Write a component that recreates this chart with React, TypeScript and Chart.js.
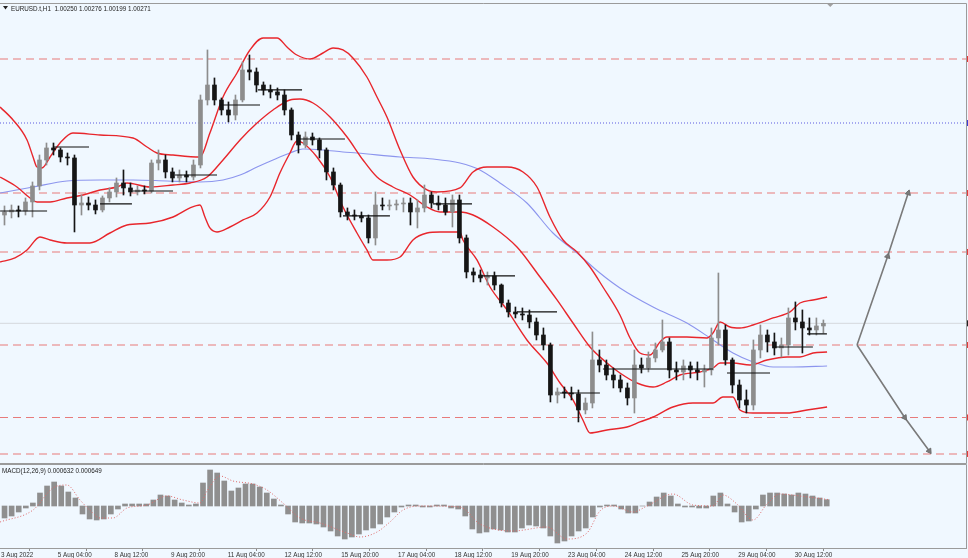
import React, { useEffect, useRef } from "react";
import { Chart, registerables } from "chart.js";

Chart.register(...registerables);

const FONT = '"Liberation Sans", Arial, sans-serif';
const BG = "#f0f8ff";

const X_MIN = -0.56;
const X_MAX = 544.6;
const PRICE_MIN = 0.98525;
const PRICE_MAX = 1.042625;
const MACD_MIN = -0.0042;
const MACD_MAX = 0.0041;
// candles were sampled every 3.95 trading hours, MACD every 4 hours
const CANDLE_STEP = 3.95;
const CANDLE_OFFSET = 1.975;
const MACD_STEP = 4;
const SHIFT_HOUR = 468;

const titleText = "EURUSD.t,H1  1.00250 1.00276 1.00199 1.00271";
const macdText = "MACD(12,26,9) 0.000632 0.000649";

const tickHours = [0, 32, 64, 96, 128, 160, 192, 224, 256, 288, 320, 352, 384, 416, 448];
const tickLabels = [
  "3 Aug 2022", "5 Aug 04:00", "8 Aug 12:00", "9 Aug 20:00", "11 Aug 04:00",
  "12 Aug 12:00", "15 Aug 20:00", "17 Aug 04:00", "18 Aug 12:00", "19 Aug 20:00",
  "23 Aug 04:00", "24 Aug 12:00", "25 Aug 20:00", "29 Aug 04:00", "30 Aug 12:00",
];

const opens = [
  1.01625, 1.01663, 1.01688, 1.01675, 1.01788, 1.01988, 1.02313, 1.02463, 1.02438, 1.02350,
  1.02338, 1.01750, 1.01775, 1.01750, 1.01688, 1.01838, 1.01913, 1.02025, 1.01963, 1.01913,
  1.01938, 1.01925, 1.02275, 1.02313, 1.02163, 1.02088, 1.02125, 1.02100, 1.02250, 1.03063,
  1.03250, 1.03063, 1.02938, 1.02875, 1.03063, 1.03438, 1.03413, 1.03250, 1.03188, 1.03163,
  1.03125, 1.02938, 1.02625, 1.02500, 1.02600, 1.02563, 1.02438, 1.02163, 1.02000, 1.01663,
  1.01625, 1.01613, 1.01588, 1.01338, 1.01750, 1.01738, 1.01750, 1.01763, 1.01775, 1.01663,
  1.01713, 1.01875, 1.01775, 1.01750, 1.01663, 1.01813, 1.01338, 1.00913, 1.00875, 1.00838,
  1.00863, 1.00750, 1.00525, 1.00413, 1.00388, 1.00375, 1.00288, 1.00125, 1.00000, 0.99375,
  0.99413, 0.99400, 0.99388, 0.99188, 0.99275, 0.99813, 0.99750, 0.99625, 0.99563, 0.99463,
  0.99338, 0.99750, 0.99713, 0.99838, 0.99938, 1.00038, 0.99688, 0.99663, 0.99738, 0.99688,
  0.99663, 0.99688, 1.00088, 1.00188, 0.99813, 0.99500, 0.99313, 0.99250, 0.99938, 1.00125,
  1.00038, 0.99963, 1.00000, 1.00338, 1.00288, 1.00213, 1.00188, 1.00238,
];
const highs = [
  1.01738, 1.01750, 1.01738, 1.01838, 1.02038, 1.02375, 1.02525, 1.02525, 1.02463, 1.02400,
  1.02375, 1.01875, 1.01850, 1.01813, 1.01863, 1.01963, 1.02088, 1.02188, 1.02025, 1.01988,
  1.01988, 1.02313, 1.02438, 1.02375, 1.02213, 1.02188, 1.02175, 1.02313, 1.03125, 1.03688,
  1.03338, 1.03088, 1.03038, 1.03125, 1.03538, 1.03625, 1.03463, 1.03288, 1.03250, 1.03213,
  1.03188, 1.02963, 1.02663, 1.02663, 1.02650, 1.02588, 1.02463, 1.02213, 1.02025, 1.01713,
  1.01688, 1.01663, 1.01625, 1.01913, 1.01838, 1.01813, 1.01813, 1.01838, 1.01838, 1.01813,
  1.02000, 1.01913, 1.01863, 1.01838, 1.01875, 1.01875, 1.01375, 1.00963, 1.00938, 1.00913,
  1.00913, 1.00763, 1.00563, 1.00475, 1.00463, 1.00438, 1.00338, 1.00213, 1.00025, 0.99463,
  0.99475, 0.99475, 0.99438, 0.99338, 1.00163, 0.99938, 0.99813, 0.99713, 0.99625, 0.99525,
  0.99938, 0.99838, 0.99913, 1.00025, 1.00313, 1.00088, 0.99788, 0.99813, 0.99788, 0.99788,
  0.99750, 1.00213, 1.00900, 1.00250, 0.99838, 0.99563, 0.99438, 1.00063, 1.00250, 1.00188,
  1.00150, 1.00088, 1.00463, 1.00538, 1.00438, 1.00338, 1.00338, 1.00313,
];
const lows = [
  1.01500, 1.01588, 1.01600, 1.01625, 1.01600, 1.01938, 1.02250, 1.02375, 1.02288, 1.02250,
  1.01413, 1.01625, 1.01688, 1.01638, 1.01663, 1.01788, 1.01850, 1.01875, 1.01863, 1.01875,
  1.01888, 1.01900, 1.02188, 1.02088, 1.02038, 1.02038, 1.02038, 1.02063, 1.02213, 1.03000,
  1.03000, 1.02875, 1.02788, 1.02813, 1.03038, 1.03313, 1.03163, 1.03125, 1.03088, 1.03063,
  1.02875, 1.02563, 1.02400, 1.02463, 1.02500, 1.02338, 1.02063, 1.01938, 1.01600, 1.01563,
  1.01563, 1.01538, 1.01275, 1.01250, 1.01688, 1.01688, 1.01688, 1.01663, 1.01500, 1.01463,
  1.01663, 1.01713, 1.01688, 1.01625, 1.01475, 1.01275, 1.00838, 1.00788, 1.00788, 1.00750,
  1.00688, 1.00475, 1.00350, 1.00338, 1.00313, 1.00213, 1.00063, 0.99938, 0.99288, 0.99275,
  0.99338, 0.99313, 0.99038, 0.99138, 0.99213, 0.99663, 0.99563, 0.99463, 0.99413, 0.99250,
  0.99150, 0.99650, 0.99663, 0.99788, 0.99913, 0.99588, 0.99563, 0.99563, 0.99588, 0.99563,
  0.99475, 0.99625, 1.00000, 0.99750, 0.99400, 0.99213, 0.99150, 0.99188, 0.99838, 0.99913,
  0.99875, 0.99850, 0.99875, 1.00188, 0.99900, 1.00125, 1.00125, 1.00150,
];
const closes = [
  1.01663, 1.01688, 1.01675, 1.01788, 1.01988, 1.02313, 1.02463, 1.02438, 1.02350, 1.02338,
  1.01750, 1.01775, 1.01750, 1.01688, 1.01838, 1.01913, 1.02025, 1.01963, 1.01913, 1.01938,
  1.01925, 1.02275, 1.02313, 1.02163, 1.02088, 1.02125, 1.02100, 1.02250, 1.03063, 1.03250,
  1.03063, 1.02938, 1.02875, 1.03063, 1.03438, 1.03413, 1.03250, 1.03188, 1.03163, 1.03125,
  1.02938, 1.02625, 1.02500, 1.02600, 1.02563, 1.02438, 1.02163, 1.02000, 1.01663, 1.01625,
  1.01613, 1.01588, 1.01338, 1.01750, 1.01738, 1.01750, 1.01763, 1.01775, 1.01663, 1.01713,
  1.01875, 1.01775, 1.01750, 1.01663, 1.01813, 1.01338, 1.00913, 1.00875, 1.00838, 1.00863,
  1.00750, 1.00525, 1.00413, 1.00388, 1.00375, 1.00288, 1.00125, 1.00000, 0.99375, 0.99413,
  0.99400, 0.99388, 0.99188, 0.99275, 0.99813, 0.99750, 0.99625, 0.99563, 0.99463, 0.99338,
  0.99750, 0.99713, 0.99838, 0.99938, 1.00038, 0.99688, 0.99663, 0.99738, 0.99688, 0.99663,
  0.99688, 1.00088, 1.00188, 0.99813, 0.99500, 0.99313, 0.99250, 0.99938, 1.00125, 1.00038,
  0.99963, 1.00000, 1.00338, 1.00288, 1.00213, 1.00188, 1.00238, 1.00271,
];

const upperBand: [number, number][] = [
  [-0.5, 1.02975], [6.8, 1.02813], [14.7, 1.02563], [18.1, 1.0235], [20.3, 1.02225], [23.1, 1.02213],
  [27.7, 1.0235], [33.3, 1.02525], [40.6, 1.0265], [55.9, 1.02625], [74.5, 1.02588], [82.4, 1.02475],
  [88.0, 1.024], [97.1, 1.02375], [112.3, 1.0235], [117.9, 1.0265], [125.3, 1.031], [133.2, 1.034],
  [140.5, 1.03688], [147.9, 1.03838], [155.8, 1.03838], [161.4, 1.03725], [167.0, 1.03625], [174.4, 1.03575],
  [181.7, 1.0365], [187.4, 1.03713], [193.0, 1.03688], [198.6, 1.03588], [206.5, 1.0335], [212.2, 1.031],
  [217.8, 1.0285], [225.2, 1.02438], [232.5, 1.021], [240.4, 1.01938], [246.0, 1.01913], [259.0, 1.01963],
  [266.4, 1.02163], [274.3, 1.02225], [285.6, 1.02225], [294.6, 1.02163], [302.5, 1.01975], [309.8, 1.016],
  [317.2, 1.01313], [325.1, 1.01163], [332.4, 1.00975], [339.7, 1.00725], [349.3, 1.00375], [355.0, 1.00088],
  [360.6, 0.999], [366.3, 0.99875], [371.9, 1.00038], [375.8, 1.001], [387.1, 1.001], [398.4, 1.00088],
  [401.8, 1.0015], [405.8, 1.00288], [411.4, 1.00225], [417.0, 1.00213], [424.4, 1.0025], [435.7, 1.00338],
  [445.3, 1.00413], [450.9, 1.00525], [458.3, 1.00563], [466.2, 1.006],
];
const middleBand: [number, number][] = [
  [-0.5, 1.021], [9.0, 1.01975], [16.4, 1.01838], [20.3, 1.01788], [27.7, 1.01788], [37.2, 1.01838],
  [46.3, 1.01875], [55.9, 1.01938], [65.5, 1.01975], [71.1, 1.02025], [84.1, 1.01975], [97.1, 1.02],
  [106.7, 1.02025], [116.3, 1.021], [125.3, 1.02313], [134.9, 1.02563], [144.5, 1.02775], [153.5, 1.02938],
  [163.1, 1.03063], [168.7, 1.03075], [176.1, 1.03025], [185.7, 1.0285], [195.3, 1.026], [204.3, 1.02313],
  [212.2, 1.021], [221.2, 1.01975], [230.8, 1.01875], [240.4, 1.01725], [247.7, 1.01663], [259.0, 1.01663],
  [266.4, 1.01625], [277.7, 1.01475], [291.2, 1.01225], [304.2, 1.0085], [313.8, 1.00563], [322.8, 1.00275],
  [332.4, 0.99975], [342.0, 0.99775], [349.3, 0.9965], [358.9, 0.99525], [368.0, 0.99475], [375.8, 0.99538],
  [383.2, 0.99625], [394.5, 0.99663], [401.8, 0.99713], [405.8, 0.99775], [413.1, 0.99775], [422.7, 0.9975],
  [432.3, 0.99813], [443.6, 0.9985], [450.9, 0.9985], [458.3, 0.999], [466.2, 0.99913],
];
const lowerBand: [number, number][] = [
  [-0.5, 1.01038], [7.9, 1.01088], [14.7, 1.01188], [22.0, 1.0135], [27.7, 1.01313], [37.2, 1.01275],
  [50.2, 1.01275], [61.5, 1.014], [71.1, 1.015], [84.1, 1.01525], [97.1, 1.016], [106.7, 1.01713],
  [112.3, 1.0175], [115.1, 1.016], [117.9, 1.01463], [121.9, 1.01413], [129.2, 1.01475], [136.6, 1.01563],
  [144.5, 1.0165], [151.8, 1.0185], [157.4, 1.0215], [163.1, 1.024], [167.0, 1.0255], [170.4, 1.02525],
  [178.3, 1.0235], [185.7, 1.021], [193.0, 1.01725], [200.9, 1.014], [206.5, 1.01188], [209.9, 1.01063],
  [217.8, 1.01063], [225.2, 1.011], [232.5, 1.01313], [240.4, 1.014], [247.7, 1.01413], [259.0, 1.01413],
  [260.7, 1.01313], [268.6, 1.01063], [276.0, 1.00725], [285.6, 1.00438], [296.8, 1.00063], [308.1, 0.99775],
  [315.5, 0.99525], [322.8, 0.99313], [328.4, 0.99063], [332.4, 0.989], [342.0, 0.98938], [353.3, 0.98975],
  [360.6, 0.99038], [368.0, 0.991], [379.2, 0.99225], [390.5, 0.99275], [401.8, 0.99275], [407.4, 0.9935],
  [413.1, 0.9935], [417.0, 0.99188], [424.4, 0.9915], [443.6, 0.9915], [454.9, 0.99188], [466.2, 0.99225],
];
const movingAverage: [number, number][] = [
  [-0.5, 1.019], [18.1, 1.01975], [37.2, 1.0205], [55.9, 1.02063], [74.5, 1.02063], [93.7, 1.0205],
  [112.3, 1.02038], [125.3, 1.02063], [134.9, 1.02125], [144.5, 1.02225], [153.5, 1.02313], [163.1, 1.024],
  [170.4, 1.0245], [181.7, 1.02438], [193.0, 1.02413], [200.9, 1.024], [225.2, 1.0235], [243.8, 1.02325],
  [259.0, 1.02275], [270.3, 1.02188], [281.6, 1.02025], [296.8, 1.01775], [311.5, 1.014], [325.1, 1.0115],
  [338.0, 1.009], [349.3, 1.00713], [368.0, 1.00475], [387.1, 1.00275], [401.8, 1.00063], [413.1, 0.999],
  [424.4, 0.99788], [435.7, 0.99725], [447.0, 0.99725], [466.2, 0.99738],
];

// horizontal segments: [from hour, to hour, price]
const pivotSegments: [number, number, number][] = [
  [-0.5, 26.0, 1.01675], [29.3, 49.7, 1.02475], [55.9, 73.9, 1.01763], [74.5, 97.1, 1.01925],
  [98.2, 121.9, 1.02125], [123.6, 146.2, 1.03], [145.0, 169.9, 1.03188], [167.0, 194.1, 1.02575],
  [193.0, 219.5, 1.01613], [243.8, 265.8, 1.01763], [271.4, 290.1, 1.00863], [291.2, 313.8, 1.00413],
  [315.5, 338.0, 0.994], [339.7, 401.8, 0.997], [409.7, 434.0, 0.9965], [435.7, 458.2, 0.99975],
  [454.9, 466.1, 1.00138],
];

const dashedLevels = [1.03575, 1.019, 1.01163, 1.0, 0.99094, 0.98638];
const dottedLevel = 1.02775;
const lastPrice = 1.00271;

const arrowUp: [number, number][] = [[483.1, 1.0], [500.4, 1.0111], [512.0, 1.019]];
const arrowDown: [number, number][] = [[483.1, 1.0], [510.0, 0.99094], [523.9, 0.98675]];

const macdHist = [
  -0.0012, -0.001, -0.0006, -0.0002, 0.0003, 0.0013, 0.002, 0.0024, 0.002, 0.0014,
  0.0008, -0.0008, -0.0013, -0.0014, -0.0013, -0.0008, -0.0003, 0.0002, 0.0002, 0.0002,
  0.0002, 0.0006, 0.0011, 0.001, 0.0006, 0.0003, 0.0001, 0.0002, 0.0023, 0.0036,
  0.0033, 0.0025, 0.0015, 0.0018, 0.0022, 0.0022, 0.0019, 0.0013, 0.0007, 0.0001,
  -0.0008, -0.0016, -0.0017, -0.0017, -0.0018, -0.0021, -0.0025, -0.003, -0.0033, -0.0031,
  -0.0028, -0.0024, -0.0022, -0.0018, -0.0011, -0.0006, -0.0001, 0.0001, 0.0001, -0.0001,
  -0.0001, 0.0001, 0.0001, -0.0002, -0.0003, -0.001, -0.0023, -0.0027, -0.0026, -0.0023,
  -0.0024, -0.0026, -0.0026, -0.0022, -0.0019, -0.002, -0.0022, -0.003, -0.0037, -0.0035,
  -0.003, -0.0025, -0.0022, -0.0011, -0.0001, 0.0001, 0.0001, -0.0003, -0.0007, -0.0007,
  0.0, 0.0004, 0.0009, 0.0013, 0.001, 0.0002, -0.0001, -0.0001, -0.0002, -0.0002,
  0.001, 0.0013, 0.0002, -0.0006, -0.0016, -0.0015, -0.0003, 0.0011, 0.0013, 0.0013,
  0.0012, 0.0011, 0.0013, 0.0012, 0.001, 0.0008, 0.000632,
];
const macdSignal: [number, number][] = [
  [-0.5, -0.0016], [18.1, -0.0004], [29.3, 0.0018], [37.2, 0.0021], [44.6, 0.0006], [50.0, -0.0004],
  [55.9, -0.0012], [63.2, -0.0012], [71.1, -0.0002], [82.4, 0.0001], [93.7, 0.001], [102.7, 0.0006],
  [112.3, 0.0003], [116.3, 0.0015], [123.6, 0.003], [130.9, 0.0025], [142.2, 0.0022], [150.1, 0.0016],
  [159.1, 0.0003], [168.7, -0.0012], [180.0, -0.0017], [195.3, -0.0027], [202.6, -0.0031], [212.2, -0.0026],
  [219.5, -0.0016], [226.9, -0.0004], [236.5, 0.0], [259.0, -0.0001], [270.3, -0.0018], [288.9, -0.0025],
  [308.1, -0.0021], [319.4, -0.0033], [330.7, -0.0027], [338.0, -0.0005], [345.4, 0.0], [356.7, -0.0006],
  [364.6, 0.0], [379.2, 0.0012], [390.5, 0.0001], [401.8, 0.0], [407.4, 0.0011], [415.3, 0.0002],
  [424.4, -0.0014], [432.3, 0.0002], [439.6, 0.0012], [450.9, 0.001], [466.7, 0.000649],
];

const BULL = "#8d8d8d";
const BEAR = "#151515";
const BAND = "#e8262c";
const LEVEL = "#e77b7b";

const toXY = (arr: [number, number][]) => arr.map(([x, y]) => ({ x, y }));

function levelLine(price: number, color: string, dash: number[], width = 1): any {
  return {
    type: "line",
    data: [{ x: X_MIN, y: price }, { x: X_MAX, y: price }],
    borderColor: color,
    borderDash: dash,
    borderWidth: width,
    pointRadius: 0,
    order: 20,
  };
}

function bandLine(arr: [number, number][], color: string, width: number, order: number): any {
  return {
    type: "line",
    data: toXY(arr),
    borderColor: color,
    borderWidth: width,
    pointRadius: 0,
    tension: 0.4,
    cubicInterpolationMode: "monotone",
    order,
  };
}

function arrowLine(arr: [number, number][], rot: number): any {
  return {
    type: "line",
    data: toXY(arr),
    borderColor: "#7a7a7a",
    backgroundColor: "#7a7a7a",
    borderWidth: 1.6,
    pointRadius: [0, 3.2, 3.2],
    pointBorderWidth: 1,
    pointBorderColor: "#6e6e6e",
    pointBackgroundColor: "#7a7a7a",
    pointStyle: "triangle",
    rotation: rot,
    order: 1,
  };
}

const mainDecor = {
  id: "mainDecor",
  beforeDraw(chart: any) {
    const { ctx, width, height } = chart;
    ctx.save();
    ctx.fillStyle = BG;
    ctx.fillRect(0, 0, width, height);
    ctx.restore();
  },
  afterDraw(chart: any) {
    const { ctx, chartArea } = chart;
    const ys = chart.scales.y;
    const xs = chart.scales.x;
    ctx.save();
    ctx.strokeStyle = "#9b9b9b";
    ctx.lineWidth = 1;
    ctx.beginPath();
    ctx.moveTo(0, chartArea.top - 0.5);
    ctx.lineTo(chartArea.right + 0.5, chartArea.top - 0.5);
    ctx.lineTo(chartArea.right + 0.5, chartArea.bottom + 0.5);
    ctx.lineTo(0, chartArea.bottom + 0.5);
    ctx.stroke();

    const mark = (p: number, c: string) => {
      const y = ys.getPixelForValue(p);
      ctx.fillStyle = c;
      ctx.fillRect(chartArea.right + 1, y - 3, 2, 6);
    };
    dashedLevels.forEach((p) => mark(p, "#e03a3a"));
    mark(dottedLevel, "#3b3bd8");
    mark(lastPrice, "#202020");

    const sx = xs.getPixelForValue(SHIFT_HOUR);
    ctx.fillStyle = "#a0a0a0";
    ctx.beginPath();
    ctx.moveTo(sx - 3, chartArea.top);
    ctx.lineTo(sx + 3, chartArea.top);
    ctx.lineTo(sx, chartArea.top + 3);
    ctx.closePath();
    ctx.fill();

    ctx.fillStyle = "#222";
    ctx.beginPath();
    ctx.moveTo(3, 6);
    ctx.lineTo(8, 6);
    ctx.lineTo(5.5, 9.5);
    ctx.closePath();
    ctx.fill();
    ctx.font = `6.3px ${FONT}`;
    ctx.textBaseline = "alphabetic";
    ctx.fillText(titleText, 11, 10.5);
    ctx.restore();
  },
};

const macdDecor = {
  id: "macdDecor",
  beforeDraw(chart: any) {
    const { ctx, width, height } = chart;
    ctx.save();
    ctx.fillStyle = BG;
    ctx.fillRect(0, 0, width, height);
    ctx.restore();
  },
  afterDraw(chart: any) {
    const { ctx, chartArea } = chart;
    ctx.save();
    ctx.strokeStyle = "#9b9b9b";
    ctx.lineWidth = 1;
    ctx.beginPath();
    ctx.moveTo(0, chartArea.top - 0.5);
    ctx.lineTo(chartArea.right + 0.5, chartArea.top - 0.5);
    ctx.lineTo(chartArea.right + 0.5, chartArea.bottom + 0.5);
    ctx.stroke();
    ctx.fillStyle = "#222";
    ctx.font = `6.3px ${FONT}`;
    ctx.textBaseline = "alphabetic";
    ctx.fillText(macdText, 2, chartArea.top + 7.5);
    ctx.restore();
  },
};

function buildMain(canvas: HTMLCanvasElement) {
  const hours = opens.map((_, i) => CANDLE_OFFSET + i * CANDLE_STEP);
  const colors = opens.map((o, i) => (closes[i] >= o ? BULL : BEAR));
  const wicks = hours.map((h, i) => ({ x: h, y: [lows[i], highs[i]] }));
  const bodies = hours.map((h, i) => ({
    x: h,
    y: [Math.min(opens[i], closes[i]), Math.max(opens[i], closes[i]) + (opens[i] === closes[i] ? 0.00004 : 0)],
  }));
  const segData: any[] = [];
  pivotSegments.forEach(([a, b, p]) => {
    segData.push({ x: a, y: p }, { x: b, y: p }, { x: b, y: null });
  });

  const datasets: any[] = [
    arrowLine(arrowUp, 18),
    arrowLine(arrowDown, 146),
    {
      type: "line",
      data: segData,
      borderColor: "#111",
      borderWidth: 1.2,
      pointRadius: 0,
      spanGaps: false,
      order: 2,
    },
    {
      type: "bar",
      data: bodies,
      backgroundColor: colors,
      barThickness: 4,
      grouped: false,
      order: 5,
    },
    {
      type: "bar",
      data: wicks,
      backgroundColor: colors,
      barThickness: 1,
      grouped: false,
      order: 6,
    },
    bandLine(upperBand, BAND, 1.4, 7),
    bandLine(middleBand, BAND, 1.4, 7),
    bandLine(lowerBand, BAND, 1.4, 7),
    bandLine(movingAverage, "#8c95ee", 1.1, 8),
    ...dashedLevels.map((p) => levelLine(p, LEVEL, [8, 5], 1.1)),
    levelLine(dottedLevel, "#5b5be0", [1, 2], 1),
    levelLine(lastPrice, "#d4d8dd", [], 1),
  ];

  return new Chart(canvas, {
    type: "bar",
    data: { datasets },
    options: {
      animation: false,
      responsive: false,
      devicePixelRatio: 1,
      events: [],
      layout: { autoPadding: false, padding: { left: 0, right: 2, top: 4, bottom: 1 } },
      plugins: { legend: { display: false }, tooltip: { enabled: false }, title: { display: false } },
      scales: {
        x: { type: "linear", min: X_MIN, max: X_MAX, offset: false, display: false },
        y: { type: "linear", min: PRICE_MIN, max: PRICE_MAX, display: false },
      },
    } as any,
    plugins: [mainDecor],
  });
}

function buildMacd(canvas: HTMLCanvasElement) {
  const hours = macdHist.map((_, i) => i * MACD_STEP + MACD_STEP / 2);
  return new Chart(canvas, {
    type: "bar",
    data: {
      datasets: [
        {
          type: "line",
          data: toXY(macdSignal),
          borderColor: "#e06a6a",
          borderWidth: 1,
          borderDash: [1, 2],
          pointRadius: 0,
          tension: 0.4,
          cubicInterpolationMode: "monotone",
          order: 1,
        },
        {
          type: "bar",
          data: hours.map((h, i) => ({ x: h, y: macdHist[i] })),
          backgroundColor: "#8f8f8f",
          barThickness: 5,
          order: 2,
        },
      ] as any,
    },
    options: {
      animation: false,
      responsive: false,
      devicePixelRatio: 1,
      events: [],
      layout: { autoPadding: false, padding: { left: 0, right: 2, top: 1, bottom: 0 } },
      plugins: { legend: { display: false }, tooltip: { enabled: false } },
      scales: {
        x: {
          type: "linear",
          min: X_MIN,
          max: X_MAX,
          offset: false,
          position: "bottom",
          grid: { display: true, drawOnChartArea: false, drawTicks: true, tickLength: 3, color: "#8a8a8a" },
          border: { display: true, color: "#9b9b9b" },
          afterBuildTicks: (axis: any) => {
            axis.ticks = tickHours.map((v) => ({ value: v }));
          },
          afterFit: (axis: any) => {
            axis.height = 10;
          },
          ticks: {
            autoSkip: false,
            maxRotation: 0,
            minRotation: 0,
            align: "start",
            padding: 0,
            color: "#333",
            font: { size: 6.3, family: FONT },
            callback: (_v: any, i: number) => tickLabels[i] ?? "",
          },
        },
        y: { type: "linear", min: MACD_MIN, max: MACD_MAX, display: false },
      },
    } as any,
    plugins: [macdDecor],
  });
}

export default function App() {
  const mainRef = useRef<HTMLCanvasElement>(null);
  const macdRef = useRef<HTMLCanvasElement>(null);

  useEffect(() => {
    const main = buildMain(mainRef.current as HTMLCanvasElement);
    const macd = buildMacd(macdRef.current as HTMLCanvasElement);
    return () => {
      main.destroy();
      macd.destroy();
    };
  }, []);

  return (
    <div
      style={{
        position: "absolute",
        left: 0,
        top: 0,
        width: 968,
        height: 558,
        background: BG,
        overflow: "hidden",
      }}
    >
      <canvas
        ref={mainRef}
        width={968}
        height={464}
        style={{ position: "absolute", left: 0, top: 0, width: 968, height: 464 }}
      />
      <canvas
        ref={macdRef}
        width={968}
        height={94}
        style={{ position: "absolute", left: 0, top: 464, width: 968, height: 94 }}
      />
    </div>
  );
}
